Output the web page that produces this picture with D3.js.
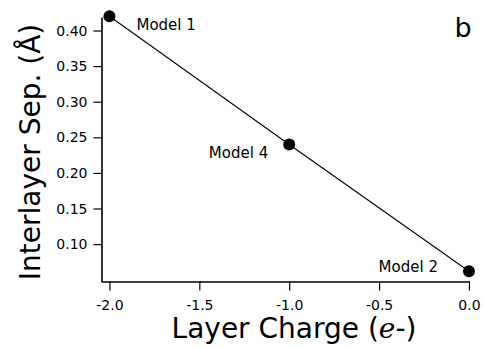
<!DOCTYPE html>
<html>
<head>
<meta charset="utf-8">
<script src="https://cdn.jsdelivr.net/npm/d3@7"></script>
<style>
  html, body { margin: 0; padding: 0; background: #fff; }
  svg text { font-family: "DejaVu Sans", Verdana, sans-serif; fill: #000; }
</style>
</head>
<body>
<svg id="chart" width="484" height="349"></svg>
<script>
// Interlayer separation versus layer charge for three models
const models = ["Model 1", "Model 4", "Model 2"];
const layerCharge = [-2.0, -1.0, 0.0];
const interlayerSep = [0.42, 0.24, 0.062];
const xTicks = [-2.0, -1.5, -1.0, -0.5, 0.0];
const yTicks = [0.10, 0.15, 0.20, 0.25, 0.30, 0.35, 0.40];

const svg = d3.select("#chart");

const x = d3.scaleLinear().domain([-2.047, 0.003]).range([101, 469.5]);
const y = d3.scaleLinear().domain([0.0475, 0.419]).range([281.5, 17]);

// Plain hyphen-minus in tick labels
const fmt = p => d => d3.format(p)(d).replace("\u2212", "-");

// Axes
const xAxis = d3.axisBottom(x).tickValues(xTicks).tickFormat(fmt(".1f"))
  .tickSizeOuter(0).tickSizeInner(9).tickPadding(7);
const yAxis = d3.axisLeft(y).tickValues(yTicks).tickFormat(fmt(".2f"))
  .tickSizeOuter(0).tickSizeInner(8).tickPadding(6);

const gx = svg.append("g").attr("transform", "translate(0,281.5)").call(xAxis);
const gy = svg.append("g").attr("transform", "translate(101.5,0)").call(yAxis);

[gx, gy].forEach(g => {
  g.select(".domain").attr("stroke", "#000").attr("stroke-width", 1.6);
  g.selectAll(".tick line").attr("stroke", "#000").attr("stroke-width", 1.2);
  g.selectAll(".tick text").style("font-size", "14px")
    .style("font-family", "'DejaVu Sans', Verdana, sans-serif").attr("fill", "#000");
});
gx.selectAll(".tick text").attr("dy", "0.9em");

// Connecting line and markers
const pts = layerCharge.map((c, i) => ({ c, s: interlayerSep[i], name: models[i] }));
const line = d3.line().x(d => x(d.c)).y(d => y(d.s));
svg.append("path").datum(pts).attr("d", line)
  .attr("fill", "none").attr("stroke", "#000").attr("stroke-width", 1.1);

svg.selectAll("circle.pt").data(pts).enter().append("circle")
  .attr("class", "pt").attr("cx", d => x(d.c)).attr("cy", d => y(d.s))
  .attr("r", 6).attr("fill", "#000");

// Point annotations
const labelOffsets = { "Model 1": [27, 13.5, "start"], "Model 4": [-21, 14, "end"], "Model 2": [-31, 0.5, "end"] };
svg.selectAll("text.lbl").data(pts).enter().append("text")
  .attr("class", "lbl")
  .attr("x", d => x(d.c) + labelOffsets[d.name][0])
  .attr("y", d => y(d.s) + labelOffsets[d.name][1])
  .attr("text-anchor", d => labelOffsets[d.name][2])
  .style("font-size", "15px")
  .text(d => d.name);

// Axis titles
const xt = svg.append("text").attr("x", 294).attr("y", 338).attr("text-anchor", "middle")
  .style("font-size", "28px");
xt.append("tspan").text("Layer Charge (");
xt.append("tspan").style("font-family", "'DejaVu Serif', 'Liberation Serif', serif")
  .style("font-style", "italic").text("e");
xt.append("tspan").text("-)");

svg.append("text")
  .attr("transform", "translate(40,152) rotate(-90)")
  .attr("text-anchor", "middle")
  .style("font-size", "28px")
  .text("Interlayer Sep. (Å)");

// Panel letter
svg.append("text").attr("x", 463).attr("y", 36.5).attr("text-anchor", "middle")
  .style("font-size", "27px").text("b");
</script>
</body>
</html>
